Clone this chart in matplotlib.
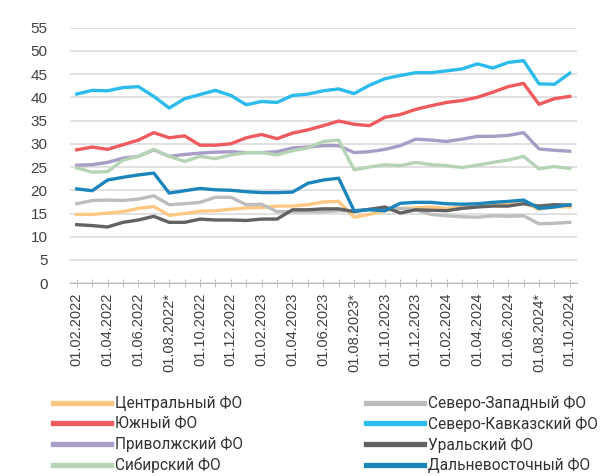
import matplotlib.pyplot as plt
from matplotlib.lines import Line2D

# monthly, 01.02.2022 .. 01.10.2024
dates = ['01.02.2022', '01.03.2022', '01.04.2022', '01.05.2022', '01.06.2022', '01.07.2022',
         '01.08.2022*', '01.09.2022', '01.10.2022', '01.11.2022', '01.12.2022', '01.01.2023',
         '01.02.2023', '01.03.2023', '01.04.2023', '01.05.2023', '01.06.2023', '01.07.2023',
         '01.08.2023*', '01.09.2023', '01.10.2023', '01.11.2023', '01.12.2023', '01.01.2024',
         '01.02.2024', '01.03.2024', '01.04.2024', '01.05.2024', '01.06.2024', '01.07.2024',
         '01.08.2024*', '01.09.2024', '01.10.2024']

central = [14.8, 14.8, 15.1, 15.4, 16.1, 16.5, 14.6, 15.0, 15.5, 15.6, 15.9, 16.2, 16.3, 16.6, 16.6,
           16.9, 17.5, 17.6, 14.2, 14.8, 15.6, 16.1, 16.2, 16.4, 16.1, 16.4, 16.6, 16.9, 17.2, 17.4,
           15.9, 16.5, 16.4]
northwest = [17.1, 17.8, 17.9, 17.8, 18.1, 18.8, 16.9, 17.1, 17.4, 18.5, 18.5, 16.9, 17.0, 15.4, 15.4,
             15.4, 15.4, 15.6, 15.6, 15.9, 16.0, 16.1, 15.8, 14.8, 14.5, 14.3, 14.2, 14.5, 14.4, 14.5,
             12.8, 12.9, 13.1]
south = [28.7, 29.3, 28.8, 29.8, 30.8, 32.4, 31.3, 31.7, 29.7, 29.7, 30.0, 31.3, 32.0, 31.1, 32.3,
         33.0, 33.9, 34.9, 34.2, 33.9, 35.7, 36.3, 37.4, 38.2, 38.9, 39.3, 40.0, 41.1, 42.3, 43.0,
         38.5, 39.7, 40.2]
ncaucasus = [40.7, 41.5, 41.4, 42.1, 42.3, 40.2, 37.7, 39.7, 40.6, 41.5, 40.4, 38.4, 39.1, 38.9, 40.4,
             40.7, 41.4, 41.8, 40.8, 42.6, 44.0, 44.7, 45.3, 45.3, 45.7, 46.1, 47.2, 46.3, 47.5, 47.9,
             42.9, 42.8, 45.2]
volga = [25.4, 25.5, 26.0, 26.9, 27.3, 28.7, 27.3, 27.7, 28.0, 28.2, 28.3, 28.1, 28.1, 28.3, 29.1,
         29.3, 29.6, 29.6, 28.1, 28.3, 28.8, 29.6, 31.0, 30.8, 30.5, 31.0, 31.6, 31.6, 31.8, 32.4,
         28.9, 28.6, 28.4]
ural = [12.6, 12.4, 12.1, 13.1, 13.6, 14.4, 13.1, 13.1, 13.8, 13.6, 13.6, 13.5, 13.8, 13.8, 15.8,
        15.8, 16.0, 16.0, 15.4, 15.9, 16.4, 15.1, 15.8, 15.7, 15.6, 16.1, 16.4, 16.6, 16.6, 17.1,
        16.6, 16.9, 16.8]
siberia = [24.8, 23.9, 24.0, 26.5, 27.3, 28.8, 27.3, 26.2, 27.3, 26.8, 27.6, 28.1, 28.1, 27.6, 28.5,
           29.1, 30.5, 30.8, 24.4, 25.0, 25.5, 25.3, 26.0, 25.5, 25.3, 24.9, 25.4, 26.0, 26.5, 27.3,
           24.6, 25.1, 24.7]
fareast = [20.3, 19.9, 22.2, 22.8, 23.3, 23.7, 19.4, 19.9, 20.4, 20.1, 20.0, 19.7, 19.5, 19.5, 19.6,
           21.5, 22.2, 22.6, 15.6, 15.8, 15.6, 17.2, 17.4, 17.4, 17.1, 17.0, 17.1, 17.4, 17.6, 17.9,
           16.1, 16.4, 16.9]

series = [
    ('Центральный ФО', central, '#FFC882'),
    ('Северо-Западный ФО', northwest, '#BDBDBD'),
    ('Южный ФО', south, '#EE5A5E'),
    ('Северо-Кавказский ФО', ncaucasus, '#2BBBEC'),
    ('Приволжский ФО', volga, '#A79DC7'),
    ('Уральский ФО', ural, '#626262'),
    ('Сибирский ФО', siberia, '#B5D4B5'),
    ('Дальневосточный ФО', fareast, '#1C86BC'),
]

fig = plt.figure(figsize=(6.02, 4.76), dpi=100)
ax = fig.add_axes([0.116, 0.405, 0.842, 0.537])

x = list(range(len(dates)))
handles = {}
for name, vals, col in series:
    ln, = ax.plot(x, vals, color=col, lw=2.4, solid_joinstyle='round')
    handles[name] = ln

ax.set_ylim(0, 55)
ax.set_yticks(range(0, 56, 5))
ax.set_xlim(-0.45, len(dates) - 1 + 0.45)
ax.set_xticks(x)
ax.set_xticklabels([d if i % 2 == 0 else '' for i, d in enumerate(dates)],
                   rotation=90, fontsize=10.5, family='Liberation Sans', color='#404040')
ax.tick_params(axis='x', direction='inout', length=6, width=0.8, color='#BFBFBF', pad=4)
ax.tick_params(axis='y', length=0, pad=16, labelsize=11, labelcolor='#404040')
for lab in ax.get_yticklabels():
    lab.set_family('Liberation Sans')

ax.grid(axis='y', color='#D9D9D9', lw=1.1)
ax.set_axisbelow(True)
for s in ['top', 'right', 'left']:
    ax.spines[s].set_visible(False)
ax.spines['bottom'].set_color('#BFBFBF')

col1 = ['Центральный ФО', 'Южный ФО', 'Приволжский ФО', 'Сибирский ФО']
col2 = ['Северо-Западный ФО', 'Северо-Кавказский ФО', 'Уральский ФО', 'Дальневосточный ФО']
for names, xpos in [(col1, 0.088), (col2, 0.608)]:
    hs = [Line2D([], [], color=handles[n].get_color(), lw=3.8) for n in names]
    fig.legend(hs, names, loc='upper left', bbox_to_anchor=(xpos, 0.168), frameon=False,
               handlelength=3.7, handletextpad=0.3, labelspacing=0.34, borderpad=0, borderaxespad=0,
               prop={'family': 'Roboto', 'size': 11.2}, labelcolor='#333333')

fig.savefig('out.png', dpi=100)
